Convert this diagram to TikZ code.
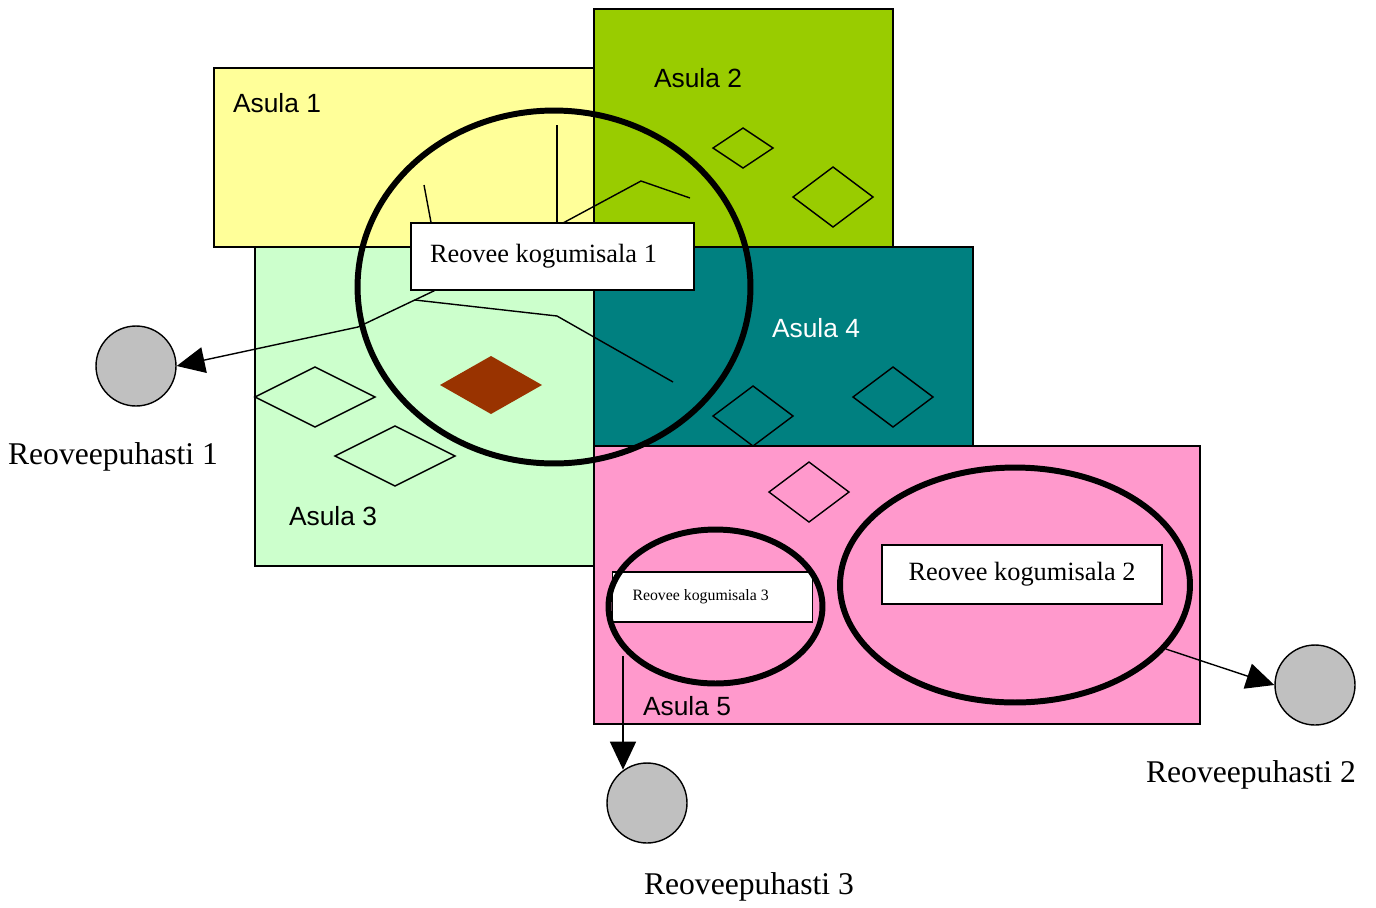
\documentclass[tikz,border=0pt]{standalone}
\usepackage{fontspec}
\setmainfont{Liberation Serif}
\newfontfamily\arialfont{Liberation Sans}
\usetikzlibrary{positioning,arrows.meta,shapes.geometric}
\definecolor{asulakollane}{HTML}{FFFF99}
\definecolor{asularoheline}{HTML}{99CC00}
\definecolor{asulaheleroheline}{HTML}{CCFFCC}
\definecolor{asulasinine}{HTML}{008080}
\definecolor{asularoosa}{HTML}{FF99CC}
\definecolor{puhastihall}{HTML}{C0C0C0}
\definecolor{rombpruun}{HTML}{993300}

\begin{document}
\begin{tikzpicture}[x=0.02cm, y=-0.02cm, asula/.style = {draw, line width=0.8pt}, toru/.style = {line width=0.8pt}]
    \tikzstyle{nimi} = [font=\arialfont\fontsize{15}{18}\selectfont, inner sep=0pt]
    \tikzstyle{ala} = [draw, ellipse, line width=3.4pt, inner sep=0pt]
    \tikzstyle{kast} = [draw, fill=white, line width=0.8pt, inner sep=0pt, font=\fontsize{15}{18}\selectfont]
    \tikzstyle{puhasti} = [draw, circle, fill=puhastihall, line width=0.8pt, minimum size=1.6cm, inner sep=0pt]
    \tikzstyle{nool} = [toru, -{Triangle[length=0.56cm, width=0.52cm]}]
    \tikzstyle{silt} = [font=\fontsize{18}{22}\selectfont, inner sep=0pt]

    \useasboundingbox (0,0) rectangle (1376,907);

    \draw[asula, fill=asulaheleroheline] (255,247) rectangle (594,566);
    \draw[asula, fill=asulakollane] (214,68) rectangle (594,247);
    \draw[asula, fill=asularoheline] (594,9) rectangle (893,247);
    \draw[asula, fill=asulasinine] (594,247) rectangle (973,446);
    \draw[asula, fill=asularoosa] (594,446) rectangle (1200,724);

    \foreach \x/\y/\w/\h in {743/148/30/20, 833/197/40/30, 753/416/40/30, 893/397/40/30, 315/397/60/30, 395/456/60/30, 809/492/40/30}
        \draw[toru] (\x-\w,\y) -- (\x,\y-\h) -- (\x+\w,\y) -- (\x,\y+\h) -- cycle;
    \fill[rombpruun] (440,385) -- (491,356) -- (542,385) -- (491,414) -- cycle;

    \node[nimi] (n1) at (277,103) {Asula 1};
    \node[nimi] (n2) at (698,78) {Asula 2};
    \node[nimi] (n3) at (333,516) {Asula 3};
    \node[nimi, text=white] (n4) at (816,328) {Asula 4};
    \node[nimi] (n5) at (687,706) {Asula 5};

    \node[kast, inner xsep=0.38cm, text width=4.9cm, align=flush left, minimum height=1.34cm] (kog1) at (552.5,256.5) {Reovee kogumisala 1};
    \node[kast, minimum width=5.6cm, minimum height=1.18cm] (kog2) at (1022,574.5) {Reovee kogumisala 2};
    \node[kast, inner xsep=0.4cm, text width=3.2cm, align=flush left, minimum height=1cm, font=\fontsize{9}{11}\selectfont] (kog3) at (712.5,597) {Reovee kogumisala 3};

    \draw[toru] (557,125) -- (557,125 |- kog1.north);
    \draw[toru] (424,185) -- (431,185 |- kog1.north);
    \draw[toru] (563,223) -- (641,181) -- (690,198);
    \draw[toru] (415,300) -- (557,316) -- (673,382);

    \node[ala, minimum width=7.86cm, minimum height=7.06cm] (ala1) at (554,287) {};
    \node[ala, minimum width=7cm, minimum height=4.7cm] (ala2) at (1015,585) {};
    \node[ala, minimum width=4.28cm, minimum height=3.08cm] (ala3) at (715.5,606.5) {};

    \node[puhasti] (puh1) at (136,366) {};
    \node[puhasti] (puh2) at (1315,685) {};
    \node[puhasti] (puh3) at (647,803) {};

    \node[silt, node distance=1.82cm] (silt1) [below of=puh1, xshift=-0.46cm] {Reoveepuhasti 1};
    \node[silt, node distance=1.8cm] (silt2) [below of=puh2, xshift=-1.28cm] {Reoveepuhasti 2};
    \node[silt, node distance=1.68cm] (silt3) [below of=puh3, xshift=2.04cm] {Reoveepuhasti 3};

    \coordinate (k1) at (358,327);
    \coordinate (k3) at (623,656);
    \draw[nool] ([xshift=0.48cm]kog1.south west) -- (k1) -- (puh1.east);
    \draw[nool] (ala2.-23) -- (puh2.west);
    \draw[nool] (k3) -- (k3 |- puh3.125);
\end{tikzpicture}
\end{document}
